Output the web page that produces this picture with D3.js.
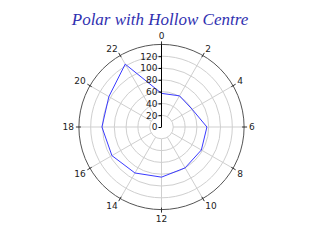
<!DOCTYPE html>
<html>
<head>
<meta charset="utf-8">
<script src="https://cdn.jsdelivr.net/npm/d3@7"></script>
<style>
  body { margin: 0; background: #fff; }
  text { font-family: "DejaVu Sans", sans-serif; }
</style>
</head>
<body>
<div id="chart"></div>
<script>
// data
let hours = [0, 2, 4, 6, 8, 10, 12, 14, 16, 18, 20, 22]
let values = [57, 61, 60, 77, 78, 80, 85, 90, 97, 101, 103, 123]
let radialTicks = [0, 20, 40, 60, 80, 100, 120]
let gridRings = [20, 40, 60, 80, 100, 120]
let angleTicks = [0, 2, 4, 6, 8, 10, 12, 14, 16, 18, 20, 22]

let width = 322, height = 241
let cx = 161.5, cy = 127
let outer = 82.6

let svg = d3.select("#chart").append("svg")
    .attr("width", width)
    .attr("height", height)

//title
svg.append("text")
    .attr("x", 160)
    .attr("y", 25)
    .attr("text-anchor", "middle")
    .style("font-family", "'Liberation Serif', serif")
    .style("font-style", "italic")
    .style("font-size", "17px")
    .attr("fill", "#3030b0")
    .text("Polar with Hollow Centre")

let rScale = d3.scaleLinear().domain([0, 140]).range([0, outer])
let aScale = d3.scaleLinear().domain([0, 24]).range([0, 2 * Math.PI])

let g = svg.append("g").attr("transform", "translate(" + cx + "," + cy + ")")

// grid rings
g.selectAll("circle.ring").data(gridRings).enter().append("circle")
    .attr("class", "ring")
    .attr("r", d => rScale(d))
    .attr("fill", "none")
    .attr("stroke", "#cfcfcf")
    .attr("stroke-width", 1)

// spokes, starting from the hollow centre
g.selectAll("line.spoke").data(angleTicks).enter().append("line")
    .attr("class", "spoke")
    .attr("x1", d => Math.sin(aScale(d)) * rScale(20))
    .attr("y1", d => -Math.cos(aScale(d)) * rScale(20))
    .attr("x2", d => Math.sin(aScale(d)) * outer)
    .attr("y2", d => -Math.cos(aScale(d)) * outer)
    .attr("stroke", "#cfcfcf")
    .attr("stroke-width", 1)

// outer circle
g.append("circle")
    .attr("r", outer)
    .attr("fill", "none")
    .attr("stroke", "#555")
    .attr("stroke-width", 1)

// angle ticks and labels
g.selectAll("line.atick").data(angleTicks).enter().append("line")
    .attr("class", "atick")
    .attr("x1", d => Math.sin(aScale(d)) * (outer - 2))
    .attr("y1", d => -Math.cos(aScale(d)) * (outer - 2))
    .attr("x2", d => Math.sin(aScale(d)) * (outer + 3))
    .attr("y2", d => -Math.cos(aScale(d)) * (outer + 3))
    .attr("stroke", "#333")

g.selectAll("text.alabel").data(angleTicks).enter().append("text")
    .attr("class", "alabel")
    .attr("x", d => Math.sin(aScale(d)) * (outer + 5))
    .attr("y", d => -Math.cos(aScale(d)) * (outer + 5))
    .attr("text-anchor", d => {
        let s = Math.sin(aScale(d))
        return s > 0.1 ? "start" : (s < -0.1 ? "end" : "middle")
    })
    .attr("dy", d => {
        let c = Math.cos(aScale(d))
        return c > 0.9 ? "-0.1em" : (c < -0.9 ? "0.85em" : (c > 0.3 ? "0.1em" : (c < -0.3 ? "0.7em" : "0.35em")))
    })
    .style("font-size", "9px")
    .attr("fill", "#222")
    .text(d => d)

// data line
let line = d3.lineRadial()
    .angle((d, i) => aScale(hours[i]))
    .radius(d => rScale(d))
    .curve(d3.curveLinearClosed)

g.append("path")
    .datum(values)
    .attr("d", line)
    .attr("fill", "none")
    .attr("stroke", "#3a3aff")
    .attr("stroke-width", 1)

// radial axis
let yScale = d3.scaleLinear().domain([0, 140]).range([0, -outer])
let yAxis = d3.axisLeft(yScale).tickValues(radialTicks).tickSize(3).tickSizeOuter(0).tickPadding(1)
let ax = g.append("g").call(yAxis)
ax.select(".domain").remove()
ax.append("line")
    .attr("x1", 0).attr("x2", 0)
    .attr("y1", 0).attr("y2", -outer)
    .attr("stroke", "#000")
ax.selectAll("text")
    .style("font-family", "'DejaVu Sans', sans-serif")
    .style("font-size", "9px")
    .attr("fill", "#222")
</script>
</body>
</html>
